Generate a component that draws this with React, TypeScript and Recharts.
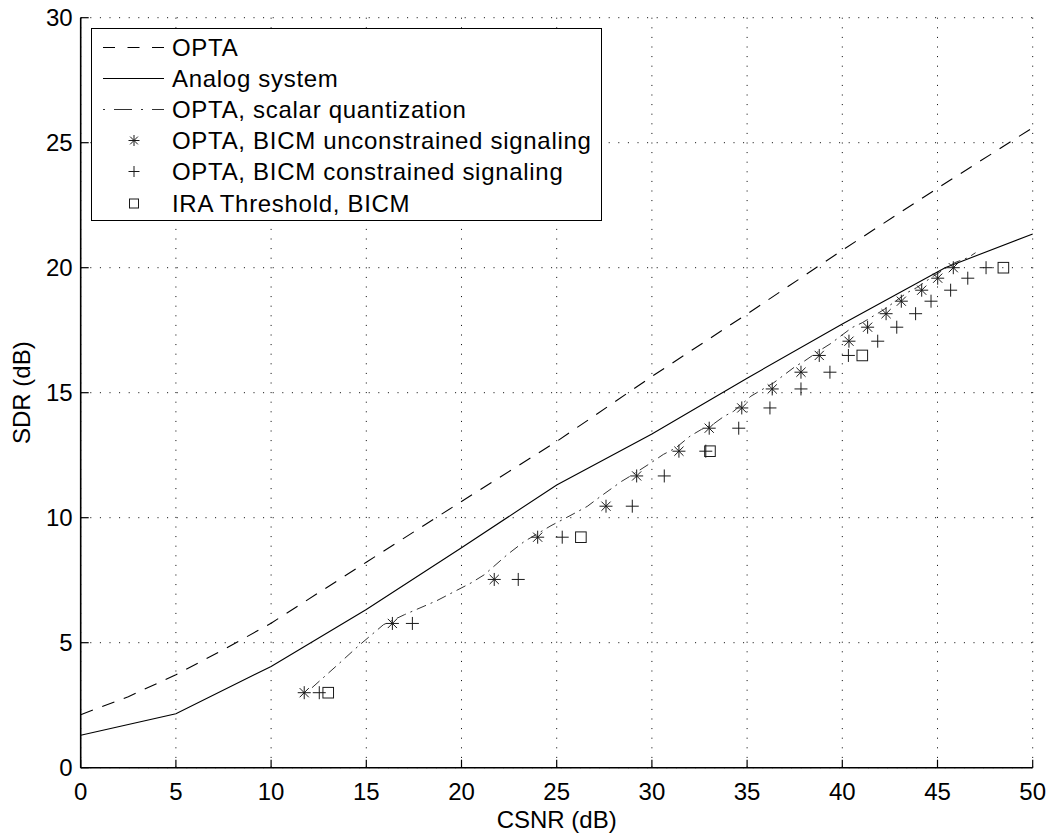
import React from 'react';
import { ComposedChart, Line, Scatter, XAxis, YAxis, CartesianGrid, Legend, Label } from 'recharts';

const xTicks = [0, 5, 10, 15, 20, 25, 30, 35, 40, 45, 50];
const yTicks = [0, 5, 10, 15, 20, 25, 30];

// OPTA (dashed)
const optaCsnr = [0, 2.5, 5, 7.5, 10, 15, 20, 25, 30, 35, 40, 45, 50];
const optaSdr = [2.12, 2.84, 3.72, 4.72, 5.78, 8.22, 10.65, 13.05, 15.65, 18.15, 20.7, 23.18, 25.6];

// Analog system (solid)
const analogCsnr = [0, 5, 10, 15, 20, 25, 30, 35, 40, 45.4, 50];
const analogSdr = [1.3, 2.16, 4.05, 6.33, 8.8, 11.31, 13.35, 15.58, 17.75, 20.0, 21.35];

// OPTA, scalar quantization (dash-dot)
const scalarCsnr = [12.15, 13.4, 14.6, 15.9, 17.0, 18.7, 20.5, 21.2, 22.4, 23.3, 24.7, 25.7, 26.6, 27.3, 28.4, 28.9, 29.8, 30.6, 31.25, 32.0, 32.6, 33.2, 33.8, 34.3, 35.2, 36.4, 37.55, 38.0, 38.9, 39.4, 40.5, 41.05, 42.2, 43.4, 43.9, 44.8, 45.9, 46.6, 47.0];
const scalarSdr = [3.2, 4.05, 4.88, 5.72, 6.12, 6.68, 7.39, 7.72, 8.52, 9.05, 9.68, 10.08, 10.45, 10.85, 11.45, 11.68, 12.12, 12.53, 12.79, 13.26, 13.53, 13.73, 14.06, 14.26, 14.86, 15.4, 16.06, 16.26, 16.73, 16.97, 17.6, 17.8, 18.33, 19.0, 19.2, 19.67, 20.2, 20.4, 20.6];

// SDR levels shared by the BICM points
const bicmSdr = [3.0, 5.77, 7.53, 9.22, 10.46, 11.67, 12.66, 13.58, 14.39, 15.15, 15.82, 16.49, 17.06, 17.62, 18.16, 18.66, 19.1, 19.58, 20.0];
// OPTA, BICM unconstrained signaling (*)
const unconstrainedCsnr = [11.74, 16.37, 21.72, 24.0, 27.59, 29.2, 31.42, 33.01, 34.72, 36.32, 37.83, 38.79, 40.35, 41.33, 42.3, 43.1, 44.17, 45.01, 45.83];
// OPTA, BICM constrained signaling (+)
const constrainedCsnr = [12.53, 17.42, 22.98, 25.29, 28.97, 30.65, 32.83, 34.56, 36.2, 37.83, 39.35, 40.32, 41.86, 42.86, 43.85, 44.66, 45.69, 46.59, 47.55];
// IRA Threshold, BICM (square)
const iraCsnr = [13.0, 26.27, 33.05, 41.05, 48.46];
const iraSdr = [3.0, 9.22, 12.66, 16.49, 20.0];

const toPoints = (xs: number[], ys: number[]) => xs.map((x, i) => ({ x, y: ys[i] }));

const optaData = toPoints(optaCsnr, optaSdr);
const analogData = toPoints(analogCsnr, analogSdr);
const scalarData = toPoints(scalarCsnr, scalarSdr);
const unconstrainedData = toPoints(unconstrainedCsnr, bicmSdr);
const constrainedData = toPoints(constrainedCsnr, bicmSdr);
const iraData = toPoints(iraCsnr, iraSdr);

const font = '"Liberation Sans", Arial, Helvetica, sans-serif';
const dashed = '13 10';
const dashDot = '10 5 2 5';
const markColor = '#1a1a1a';

const StarMark = ({ cx, cy, r = 6.5 }: { cx: number; cy: number; r?: number }) => {
  const d = r * 0.707;
  return (
    <g stroke={markColor} strokeWidth={1}>
      <line x1={cx - r} y1={cy} x2={cx + r} y2={cy} />
      <line x1={cx} y1={cy - r} x2={cx} y2={cy + r} />
      <line x1={cx - d} y1={cy - d} x2={cx + d} y2={cy + d} />
      <line x1={cx - d} y1={cy + d} x2={cx + d} y2={cy - d} />
    </g>
  );
};

const PlusMark = ({ cx, cy, r = 6.5 }: { cx: number; cy: number; r?: number }) => (
  <g stroke={markColor} strokeWidth={1}>
    <line x1={cx - r} y1={cy} x2={cx + r} y2={cy} />
    <line x1={cx} y1={cy - r} x2={cx} y2={cy + r} />
  </g>
);

const SquareMark = ({ cx, cy, r = 5.3 }: { cx: number; cy: number; r?: number }) => (
  <rect x={cx - r} y={cy - r} width={2 * r} height={2 * r} fill="none" stroke={markColor} strokeWidth={1} />
);

const legendRows = [
  { label: 'OPTA', kind: 'dash' },
  { label: 'Analog system', kind: 'solid' },
  { label: 'OPTA, scalar quantization', kind: 'dashdot' },
  { label: 'OPTA, BICM unconstrained signaling', kind: 'star' },
  { label: 'OPTA, BICM constrained signaling', kind: 'plus' },
  { label: 'IRA Threshold, BICM', kind: 'square' },
];

const LegendSample = ({ kind }: { kind: string }) => (
  <svg width={62} height={31} style={{ position: 'absolute', left: 11, top: 0 }}>
    {kind === 'dash' && <line x1={0} y1={15.5} x2={61} y2={15.5} stroke="#000" strokeDasharray="12 12.5" />}
    {kind === 'solid' && <line x1={0} y1={15.5} x2={61} y2={15.5} stroke="#000" />}
    {kind === 'dashdot' && <line x1={0} y1={15.5} x2={61} y2={15.5} stroke="#333" strokeDasharray="2 9 18 9" />}
    {kind === 'star' && <StarMark cx={31} cy={15.5} r={5.5} />}
    {kind === 'plus' && <PlusMark cx={31} cy={15.5} r={5.5} />}
    {kind === 'square' && <SquareMark cx={31} cy={15.5} r={4.5} />}
  </svg>
);

const LegendBox = () => (
  <div
    style={{
      position: 'relative',
      width: 511,
      height: 193,
      boxSizing: 'border-box',
      border: '1.3px solid #000',
      background: '#fff',
      fontFamily: font,
      fontSize: 24,
      letterSpacing: 0.7,
      color: '#000',
    }}
  >
    {legendRows.map((row, i) => (
      <div key={row.label} style={{ position: 'absolute', left: 0, top: 3 + i * 31.1, height: 31, width: '100%' }}>
        <LegendSample kind={row.kind} />
        <span style={{ position: 'absolute', left: 80, top: 0, lineHeight: '31px', whiteSpace: 'nowrap' }}>{row.label}</span>
      </div>
    ))}
  </div>
);

const YTitle = (props: any) => {
  const vb = props.viewBox || { x: 0, y: 17.7, width: 80.7, height: 750 };
  const cx = vb.x + 22;
  const cy = vb.y + vb.height / 2;
  return (
    <text x={cx} y={cy} transform={`rotate(-90 ${cx} ${cy})`} textAnchor="middle" dominantBaseline="central" fontFamily={font} fontSize={24} fill="#000">
      SDR (dB)
    </text>
  );
};

const XTitle = (props: any) => {
  const vb = props.viewBox || { x: 80.7, y: 767.7, width: 952, height: 66.3 };
  return (
    <text x={vb.x + vb.width / 2} y={vb.y + vb.height - 6} textAnchor="middle" fontFamily={font} fontSize={24} fill="#000">
      CSNR (dB)
    </text>
  );
};

const axisLine = { stroke: '#000', strokeWidth: 1.6 };
const tickLine = { stroke: '#000', strokeWidth: 1.2 };
const tickStyle = { fill: '#000', fontSize: 24, fontFamily: font };

export default function App() {
  return (
    <div style={{ position: 'absolute', left: 0, top: 0, width: 1053, height: 834, background: '#fff' }}>
      <ComposedChart width={1053} height={834} margin={{ top: 17.7, right: 20.3, bottom: 0, left: 0 }}>
        <CartesianGrid xAxisId="b" yAxisId="l" stroke="#000" strokeWidth={1} strokeDasharray="1 8.6" />
        <XAxis
          xAxisId="b"
          type="number"
          dataKey="x"
          domain={[0, 50]}
          ticks={xTicks}
          interval={0}
          height={66.3}
          axisLine={axisLine}
          tickLine={tickLine}
          tickSize={-8}
          tickMargin={23}
          tick={tickStyle}
        >
          <Label content={XTitle} />
        </XAxis>
        <XAxis
          xAxisId="t"
          orientation="top"
          type="number"
          dataKey="x"
          domain={[0, 50]}
          ticks={xTicks}
          interval={0}
          height={0}
          axisLine={axisLine}
          tickLine={tickLine}
          tickSize={-8}
          tick={false}
        />
        <YAxis
          yAxisId="l"
          type="number"
          dataKey="y"
          domain={[0, 30]}
          ticks={yTicks}
          interval={0}
          width={80.7}
          axisLine={axisLine}
          tickLine={tickLine}
          tickSize={-8}
          tickMargin={16}
          tick={tickStyle}
        >
          <Label content={YTitle} />
        </YAxis>
        <YAxis
          yAxisId="r"
          orientation="right"
          type="number"
          dataKey="y"
          domain={[0, 30]}
          ticks={yTicks}
          interval={0}
          width={0}
          axisLine={axisLine}
          tickLine={tickLine}
          tickSize={-8}
          tick={false}
        />
        <Line xAxisId="b" yAxisId="l" data={optaData} dataKey="y" type="linear" stroke="#000" strokeWidth={1.1} strokeDasharray={dashed} dot={false} isAnimationActive={false} />
        <Line xAxisId="b" yAxisId="l" data={analogData} dataKey="y" type="linear" stroke="#000" strokeWidth={1.1} dot={false} isAnimationActive={false} />
        <Line xAxisId="b" yAxisId="l" data={scalarData} dataKey="y" type="linear" stroke="#333" strokeWidth={1} strokeDasharray={dashDot} dot={false} isAnimationActive={false} />
        <Scatter xAxisId="b" yAxisId="l" data={unconstrainedData} dataKey="y" isAnimationActive={false} shape={(p: any) => <StarMark cx={p.cx} cy={p.cy} />} />
        <Scatter xAxisId="b" yAxisId="l" data={constrainedData} dataKey="y" isAnimationActive={false} shape={(p: any) => <PlusMark cx={p.cx} cy={p.cy} />} />
        <Scatter xAxisId="b" yAxisId="l" data={iraData} dataKey="y" isAnimationActive={false} shape={(p: any) => <SquareMark cx={p.cx} cy={p.cy} />} />
        <Legend
          layout="vertical"
          align="center"
          verticalAlign="middle"
          content={() => <LegendBox />}
          wrapperStyle={{ left: 91, top: 28, width: 511, height: 193 }}
        />
      </ComposedChart>
    </div>
  );
}
